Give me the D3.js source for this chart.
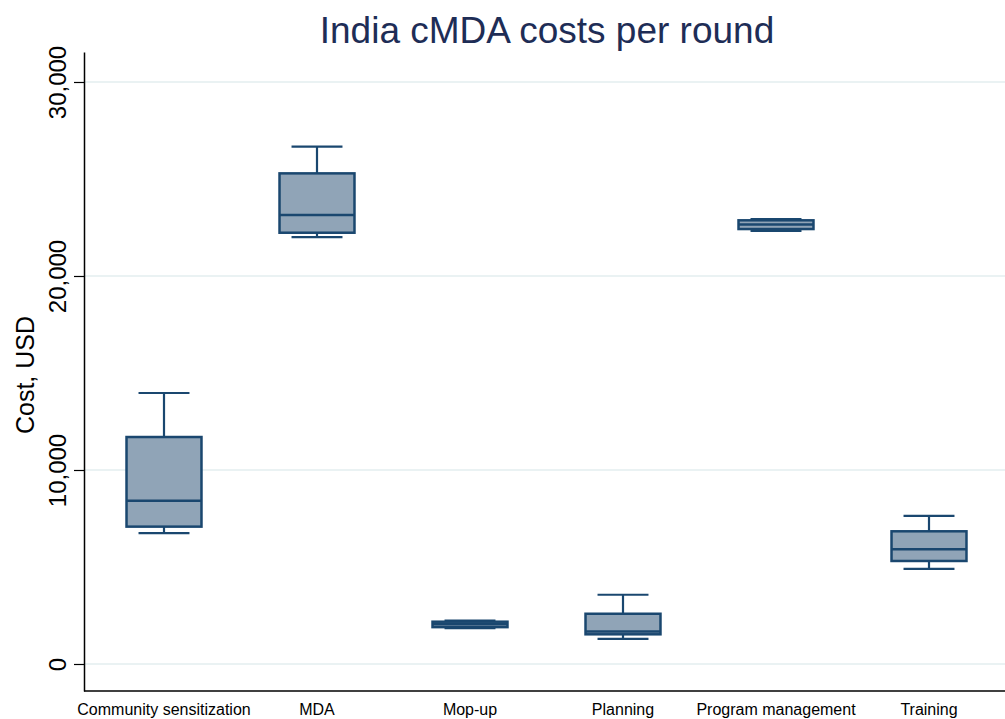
<!DOCTYPE html>
<html>
<head>
<meta charset="utf-8">
<script src="https://cdn.jsdelivr.net/npm/d3@7"></script>
<style>
html,body{margin:0;padding:0;background:#fff;}
svg{display:block;font-family:"Liberation Sans",Arial,Helvetica,sans-serif;}
</style>
</head>
<body>
<svg id="chart" width="1005" height="719"></svg>
<script>
const categories = ["Community sensitization","MDA","Mop-up","Planning","Program management","Training"];
const lowerWhisker = [6750, 22000, 1850, 1290, 22330, 4900];
const q1 = [7080, 22230, 1900, 1530, 22420, 5310];
const median = [8420, 23150, 2050, 1670, 22650, 5910];
const q3 = [11700, 25290, 2180, 2590, 22870, 6840];
const upperWhisker = [13970, 26670, 2240, 3570, 22930, 7640];
const yTicks = [0, 10000, 20000, 30000];
const titleText = "India cMDA costs per round";
const yTitleText = "Cost, USD";

(function(){
const data = categories.map((c,i)=>({cat:c, lo:lowerWhisker[i], q1:q1[i], med:median[i], q3:q3[i], hi:upperWhisker[i]}));

const svg = d3.select("#chart");
const mLeft = 84, mRight = 1005, mTop = 52, mBottom = 691;

const y = d3.scaleLinear().domain([-1392, 31546]).range([mBottom, mTop]);
const x = d3.scaleBand().domain(categories).range([87.5, 1005.5]).padding(0);
const bw = x.bandwidth();
const boxW = bw*0.49, capW = bw*0.333;

const stroke = "#1a476f", fill = "#90a4b7";

svg.append("g").selectAll("line").data(yTicks).join("line")
  .attr("x1", mLeft).attr("x2", mRight)
  .attr("y1", d=>y(d)).attr("y2", d=>y(d))
  .attr("stroke", "#eaf2f3").attr("stroke-width", 2);

const yAxis = d3.axisLeft(y).tickValues(yTicks).tickSize(10).tickSizeOuter(0)
  .tickFormat(d3.format(","));
const gy = svg.append("g").attr("transform", `translate(${mLeft},0)`).call(yAxis);
gy.select(".domain").attr("stroke","#000").attr("stroke-width",1.5);
gy.selectAll(".tick line").attr("stroke","#000").attr("stroke-width",1.2);
gy.selectAll(".tick text")
  .attr("font-size", 24).attr("fill","#000")
  .attr("font-family","Liberation Sans, Arial, sans-serif")
  .attr("transform", "rotate(-90)")
  .attr("x", 0).attr("y", -18).attr("dy", 0)
  .attr("text-anchor","middle");

const xAxis = d3.axisBottom(x).tickSize(0).tickSizeOuter(0);
const gx = svg.append("g").attr("transform", `translate(0,${mBottom})`).call(xAxis);
gx.select(".domain").attr("stroke","#000").attr("stroke-width",1.5)
  .attr("d", `M${mLeft},0H${mRight}`);
gx.selectAll(".tick text").attr("font-size",16).attr("fill","#000")
  .attr("font-family","Liberation Sans, Arial, sans-serif").attr("dy",0).attr("y",24);

const g = svg.append("g").selectAll("g").data(data).join("g")
  .attr("transform", d=>`translate(${x(d.cat)+bw/2},0)`);
g.append("line").attr("x1",0).attr("x2",0).attr("y1",d=>y(d.hi)).attr("y2",d=>y(d.q3))
  .attr("stroke",stroke).attr("stroke-width",2.2);
g.append("line").attr("x1",0).attr("x2",0).attr("y1",d=>y(d.lo)).attr("y2",d=>y(d.q1))
  .attr("stroke",stroke).attr("stroke-width",2.2);
g.append("line").attr("x1",-capW/2).attr("x2",capW/2).attr("y1",d=>y(d.hi)).attr("y2",d=>y(d.hi))
  .attr("stroke",stroke).attr("stroke-width",2.2);
g.append("line").attr("x1",-capW/2).attr("x2",capW/2).attr("y1",d=>y(d.lo)).attr("y2",d=>y(d.lo))
  .attr("stroke",stroke).attr("stroke-width",2.2);
g.append("rect").attr("x",-boxW/2).attr("width",boxW)
  .attr("y",d=>y(d.q3)).attr("height",d=>y(d.q1)-y(d.q3))
  .attr("fill",fill).attr("stroke",stroke).attr("stroke-width",2.5);
g.append("line").attr("x1",-boxW/2).attr("x2",boxW/2).attr("y1",d=>y(d.med)).attr("y2",d=>y(d.med))
  .attr("stroke",stroke).attr("stroke-width",2.5);

svg.append("text").attr("x", 547).attr("y", 43).attr("text-anchor","middle")
  .attr("font-size",37).attr("fill","#1e2d56").text(titleText);

svg.append("text").attr("transform", `translate(34,375) rotate(-90)`)
  .attr("text-anchor","middle").attr("font-size",25).attr("fill","#000").text(yTitleText);
})();
</script>
</body>
</html>
